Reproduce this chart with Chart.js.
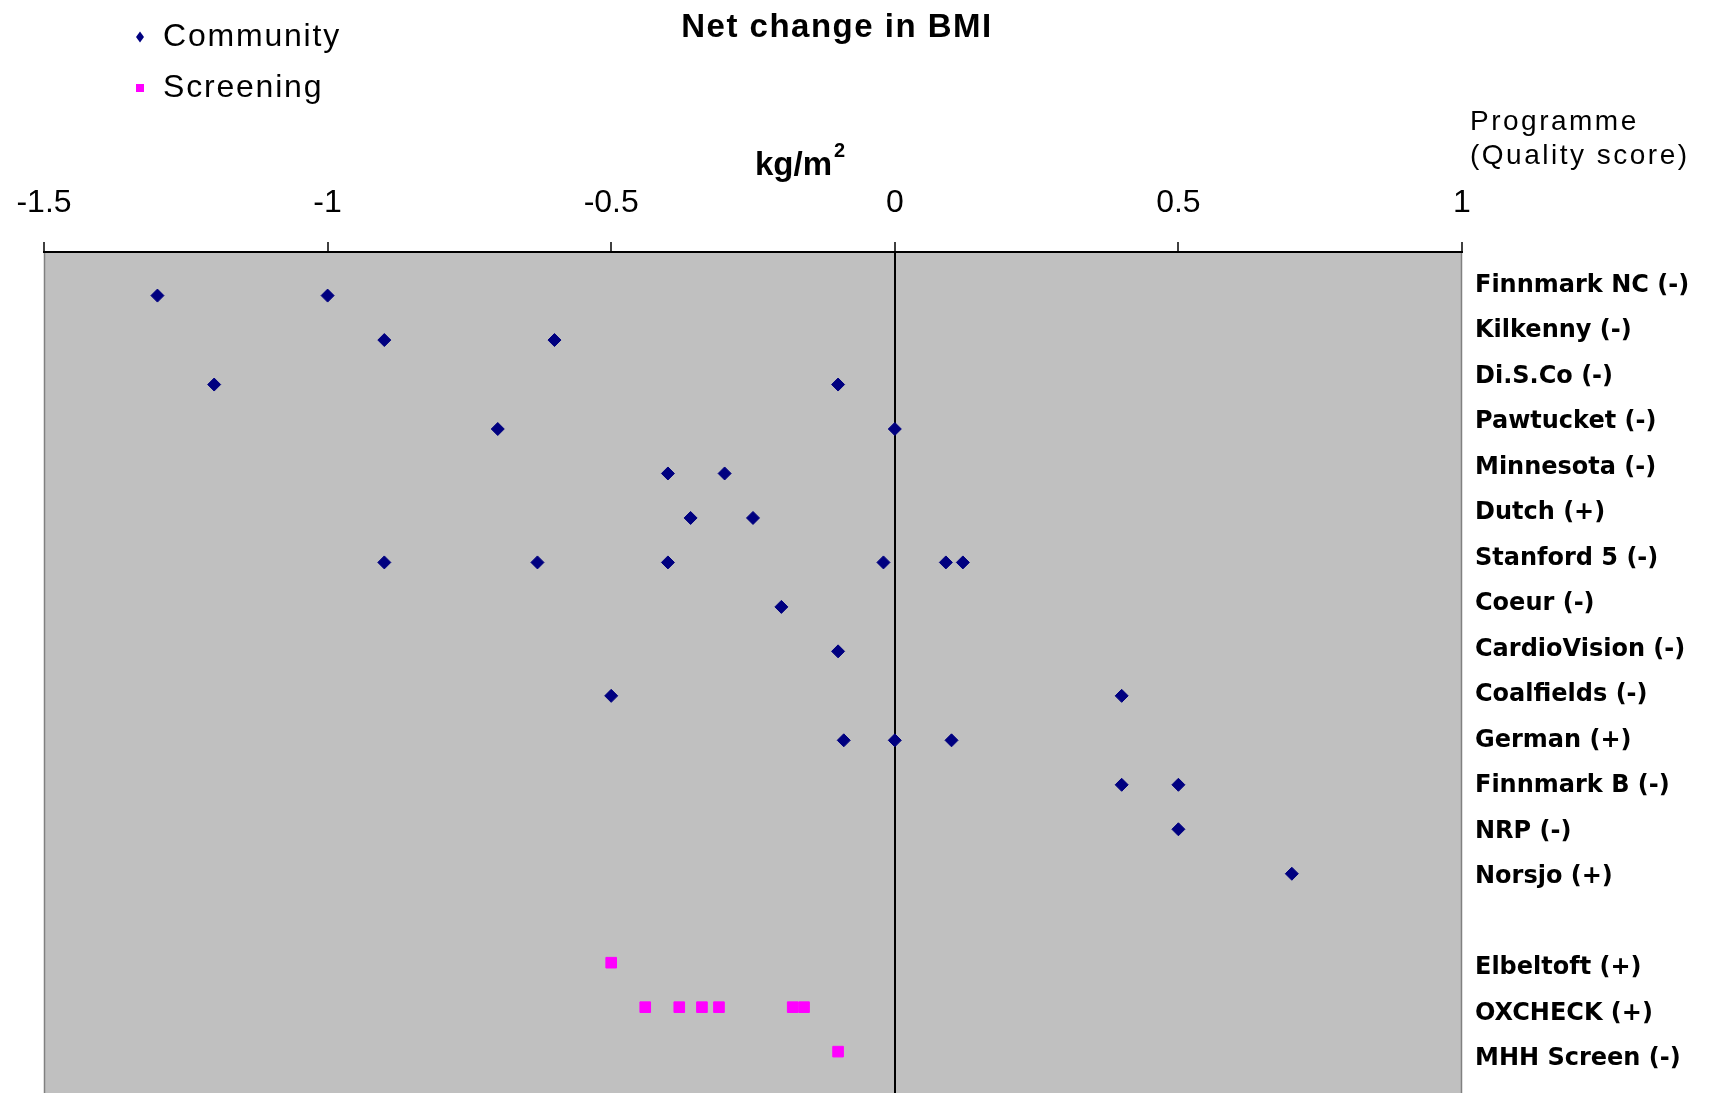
<!DOCTYPE html>
<html>
<head>
<meta charset="utf-8">
<title>Net change in BMI</title>
<script src="https://cdn.jsdelivr.net/npm/chart.js@4.4.0/dist/chart.umd.min.js"></script>
<style>
  html, body { margin: 0; padding: 0; background: #fff; }
  #wrap { width: 1715px; height: 1093px; }
  canvas { display: block; }
</style>
</head>
<body>
<div id="wrap"><canvas id="bmiChart" width="1715" height="1093"></canvas></div>
<script>
// Programme rows, top to bottom (blank row separates the screening group)
const programmes = [
    'Finnmark NC (-)', 'Kilkenny (-)', 'Di.S.Co (-)', 'Pawtucket (-)', 'Minnesota (-)',
    'Dutch (+)', 'Stanford 5 (-)', 'Coeur (-)', 'CardioVision (-)', 'Coalfields (-)',
    'German (+)', 'Finnmark B (-)', 'NRP (-)', 'Norsjo (+)', '',
    'Elbeltoft (+)', 'OXCHECK (+)', 'MHH Screen (-)'
];

const xTicks = [-1.5, -1, -0.5, 0, 0.5, 1];
const xTickLabels = ['-1.5', '-1', '-0.5', '0', '0.5', '1'];

// Community programmes: row index and net change in BMI (kg/m2)
const communityRow = [0, 0, 1, 1, 2, 2, 3, 3, 4, 4, 5, 5, 6, 6, 6, 6, 6, 6, 7, 8, 9, 9, 10, 10, 10, 11, 11, 12, 13];
const communityBMI = [-1.3, -1.0, -0.9, -0.6, -1.2, -0.1, -0.7, 0, -0.4, -0.3, -0.36, -0.25,
    -0.9, -0.63, -0.4, -0.02, 0.09, 0.12, -0.2, -0.1, -0.5, 0.4, -0.09, 0, 0.1, 0.4, 0.5, 0.5, 0.7];

// Screening programmes
const screeningRow = [15, 16, 16, 16, 16, 16, 16, 17];
const screeningBMI = [-0.5, -0.44, -0.38, -0.34, -0.31, -0.18, -0.16, -0.1];

const navy = '#000080';
const magenta = '#FF00FF';
const sans = '"Liberation Sans", Arial, sans-serif';

// Grey plot area and thin side borders
const plotBackground = {
    id: 'plotBackground',
    beforeDraw(chart) {
        const { ctx, chartArea: a } = chart;
        ctx.save();
        ctx.fillStyle = '#fff';
        ctx.fillRect(0, 0, chart.width, chart.height);
        ctx.fillStyle = '#C0C0C0';
        ctx.fillRect(a.left, a.top, a.right - a.left, a.bottom - a.top);
        ctx.strokeStyle = '#808080';
        ctx.lineWidth = 1.5;
        ctx.beginPath();
        ctx.moveTo(a.left + 0.5, a.top);
        ctx.lineTo(a.left + 0.5, a.bottom);
        ctx.moveTo(a.right - 0.5, a.top);
        ctx.lineTo(a.right - 0.5, a.bottom);
        ctx.stroke();
        ctx.restore();
    }
};

// Title, unit, right-hand header and legend
const annotations = {
    id: 'annotations',
    afterDraw(chart) {
        const ctx = chart.ctx;
        ctx.save();
        ctx.fillStyle = '#000';
        ctx.textBaseline = 'alphabetic';

        ctx.textAlign = 'center';
        ctx.font = 'bold 33px ' + sans;
        ctx.letterSpacing = '1.5px';
        ctx.fillText('Net change in BMI', 837, 37);

        ctx.textAlign = 'left';
        ctx.letterSpacing = '0px';
        ctx.font = 'bold 33px ' + sans;
        ctx.fillText('kg/m', 755, 175);
        ctx.font = 'bold 20px ' + sans;
        ctx.fillText('2', 834, 157);

        ctx.font = '28px ' + sans;
        ctx.letterSpacing = '2.5px';
        ctx.fillText('Programme', 1470, 130);
        ctx.fillText('(Quality score)', 1470, 164);

        // legend
        ctx.font = '32px ' + sans;
        ctx.letterSpacing = '1.8px';
        const items = [
            { ds: chart.data.datasets[0], y: 46, cy: 37 },
            { ds: chart.data.datasets[1], y: 97, cy: 88 }
        ];
        items.forEach(item => {
            ctx.fillStyle = item.ds.backgroundColor;
            ctx.beginPath();
            if (item.ds.pointStyle === 'rectRot') {
                ctx.moveTo(140, item.cy - 5.5);
                ctx.lineTo(144, item.cy);
                ctx.lineTo(140, item.cy + 5.5);
                ctx.lineTo(136, item.cy);
                ctx.closePath();
            } else {
                ctx.rect(136, item.cy - 4, 8, 8);
            }
            ctx.fill();
            ctx.fillStyle = '#000';
            ctx.fillText(item.ds.label, 163, item.y);
        });
        ctx.restore();
    }
};

new Chart(document.getElementById('bmiChart'), {
    type: 'scatter',
    data: {
        datasets: [{
            label: 'Community',
            data: communityBMI.map((v, i) => ({ x: v, y: communityRow[i] })),
            pointStyle: 'rectRot',
            pointRadius: 6.5,
            backgroundColor: navy,
            borderColor: navy,
            borderWidth: 1
        }, {
            label: 'Screening',
            data: screeningBMI.map((v, i) => ({ x: v, y: screeningRow[i] })),
            pointStyle: 'rect',
            pointRadius: 7.5,
            backgroundColor: magenta,
            borderColor: magenta,
            borderWidth: 1
        }]
    },
    options: {
        responsive: false,
        animation: false,
        events: [],
        layout: { autoPadding: false, padding: { left: 44, right: 0, top: 0, bottom: 0 } },
        plugins: {
            legend: { display: false },
            title: { display: false },
            tooltip: { enabled: false }
        },
        scales: {
            x: {
                type: 'linear',
                position: 'top',
                min: -1.5,
                max: 1,
                afterBuildTicks: scale => { scale.ticks = xTicks.map(v => ({ value: v })); },
                afterFit: scale => {
                    scale.height = 252;
                    scale.paddingLeft = 0;
                    scale.paddingRight = 0;
                },
                ticks: {
                    callback: (v) => xTickLabels[xTicks.indexOf(v)],
                    font: { family: sans, size: 32 },
                    color: '#000',
                    padding: 20,
                    maxRotation: 0
                },
                grid: {
                    drawOnChartArea: true,
                    color: c => (c.tick && c.tick.value === 0) ? '#000' : 'rgba(0,0,0,0)',
                    lineWidth: 2,
                    tickColor: '#000',
                    tickWidth: 1.5,
                    tickLength: 10
                },
                border: { display: true, color: '#000', width: 2 }
            },
            y: {
                type: 'linear',
                display: false,
                reverse: true,
                min: -0.98,
                max: 17.93
            },
            yl: {
                type: 'linear',
                position: 'right',
                reverse: true,
                min: -0.737,
                max: 17.75,
                afterBuildTicks: scale => { scale.ticks = programmes.map((p, i) => ({ value: i })); },
                afterFit: scale => {
                    scale.width = 253;
                    scale.paddingTop = 0;
                    scale.paddingBottom = 0;
                },
                ticks: {
                    callback: (v) => programmes[v],
                    autoSkip: false,
                    font: { family: '"DejaVu Sans", Verdana, sans-serif', size: 24, weight: 'bold' },
                    color: '#000',
                    padding: 13
                },
                grid: { display: false, drawTicks: false },
                border: { display: false }
            }
        }
    },
    plugins: [plotBackground, annotations]
});
</script>
</body>
</html>
